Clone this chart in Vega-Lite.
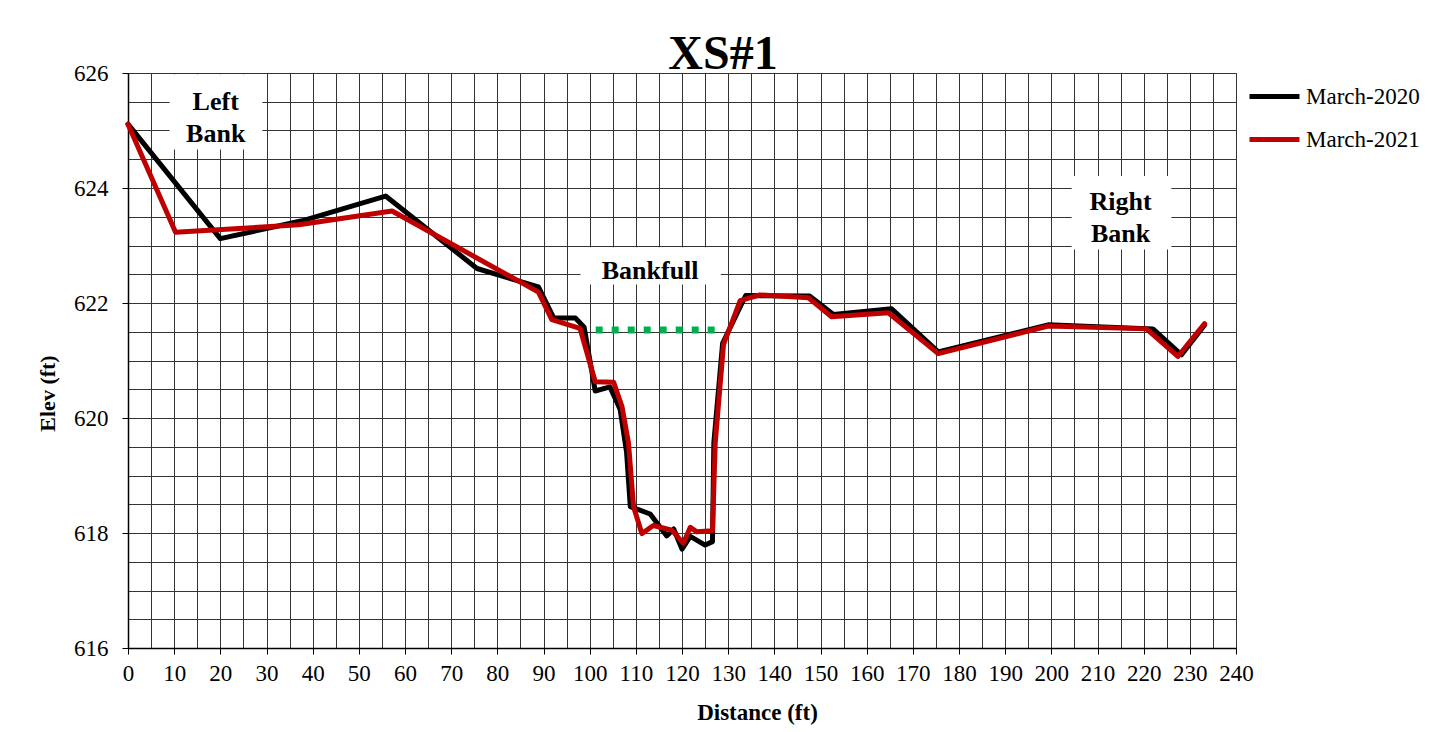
{
  "$schema": "https://vega.github.io/schema/vega-lite/v6.json",
  "width": 1108,
  "height": 575,
  "autosize": {"type": "none"},
  "padding": {"left": 128, "top": 73, "right": 216, "bottom": 84},
  "background": "white",
  "config": {
    "font": "Liberation Serif",
    "view": {"stroke": "#808080", "strokeWidth": 1}
  },
  "title": {
    "text": "XS#1",
    "font": "Liberation Serif",
    "fontSize": 48,
    "fontWeight": "bold",
    "color": "#000",
    "anchor": "middle",
    "dx": 41,
    "dy": 55,
    "baseline": "alphabetic",
    "offset": 0
  },
  "datasets": {
    "survey": [
      {"dist": 0, "elev": 625.11, "series": "March-2020"},
      {"dist": 20.0, "elev": 623.12, "series": "March-2020"},
      {"dist": 37.7, "elev": 623.43, "series": "March-2020"},
      {"dist": 55.8, "elev": 623.86, "series": "March-2020"},
      {"dist": 75.6, "elev": 622.60, "series": "March-2020"},
      {"dist": 88.9, "elev": 622.28, "series": "March-2020"},
      {"dist": 92.2, "elev": 621.74, "series": "March-2020"},
      {"dist": 96.9, "elev": 621.74, "series": "March-2020"},
      {"dist": 98.8, "elev": 621.58, "series": "March-2020"},
      {"dist": 101.2, "elev": 620.47, "series": "March-2020"},
      {"dist": 104.4, "elev": 620.54, "series": "March-2020"},
      {"dist": 106.6, "elev": 620.15, "series": "March-2020"},
      {"dist": 108.0, "elev": 619.40, "series": "March-2020"},
      {"dist": 108.8, "elev": 618.46, "series": "March-2020"},
      {"dist": 113.1, "elev": 618.33, "series": "March-2020"},
      {"dist": 116.7, "elev": 617.95, "series": "March-2020"},
      {"dist": 118.2, "elev": 618.07, "series": "March-2020"},
      {"dist": 120.0, "elev": 617.72, "series": "March-2020"},
      {"dist": 121.8, "elev": 617.94, "series": "March-2020"},
      {"dist": 125.0, "elev": 617.79, "series": "March-2020"},
      {"dist": 126.6, "elev": 617.85, "series": "March-2020"},
      {"dist": 126.9, "elev": 619.57, "series": "March-2020"},
      {"dist": 128.8, "elev": 621.30, "series": "March-2020"},
      {"dist": 133.8, "elev": 622.13, "series": "March-2020"},
      {"dist": 147.7, "elev": 622.12, "series": "March-2020"},
      {"dist": 152.8, "elev": 621.80, "series": "March-2020"},
      {"dist": 165.4, "elev": 621.90, "series": "March-2020"},
      {"dist": 175.5, "elev": 621.15, "series": "March-2020"},
      {"dist": 199.3, "elev": 621.62, "series": "March-2020"},
      {"dist": 222.0, "elev": 621.55, "series": "March-2020"},
      {"dist": 228.2, "elev": 621.10, "series": "March-2020"},
      {"dist": 233.2, "elev": 621.62, "series": "March-2020"},
      {"dist": 0, "elev": 625.11, "series": "March-2021"},
      {"dist": 10.3, "elev": 623.23, "series": "March-2021"},
      {"dist": 37.0, "elev": 623.36, "series": "March-2021"},
      {"dist": 57.2, "elev": 623.60, "series": "March-2021"},
      {"dist": 88.9, "elev": 622.19, "series": "March-2021"},
      {"dist": 91.8, "elev": 621.71, "series": "March-2021"},
      {"dist": 97.9, "elev": 621.56, "series": "March-2021"},
      {"dist": 101.2, "elev": 620.63, "series": "March-2021"},
      {"dist": 105.2, "elev": 620.62, "series": "March-2021"},
      {"dist": 107.0, "elev": 620.20, "series": "March-2021"},
      {"dist": 108.4, "elev": 619.57, "series": "March-2021"},
      {"dist": 109.5, "elev": 618.46, "series": "March-2021"},
      {"dist": 111.3, "elev": 617.99, "series": "March-2021"},
      {"dist": 113.8, "elev": 618.13, "series": "March-2021"},
      {"dist": 117.8, "elev": 618.05, "series": "March-2021"},
      {"dist": 120.3, "elev": 617.82, "series": "March-2021"},
      {"dist": 121.8, "elev": 618.10, "series": "March-2021"},
      {"dist": 123.2, "elev": 618.02, "series": "March-2021"},
      {"dist": 126.6, "elev": 618.04, "series": "March-2021"},
      {"dist": 127.2, "elev": 619.57, "series": "March-2021"},
      {"dist": 129.0, "elev": 621.28, "series": "March-2021"},
      {"dist": 132.6, "elev": 622.04, "series": "March-2021"},
      {"dist": 136.9, "elev": 622.14, "series": "March-2021"},
      {"dist": 147.4, "elev": 622.09, "series": "March-2021"},
      {"dist": 152.4, "elev": 621.76, "series": "March-2021"},
      {"dist": 164.7, "elev": 621.83, "series": "March-2021"},
      {"dist": 175.5, "elev": 621.12, "series": "March-2021"},
      {"dist": 199.3, "elev": 621.60, "series": "March-2021"},
      {"dist": 220.6, "elev": 621.55, "series": "March-2021"},
      {"dist": 227.4, "elev": 621.07, "series": "March-2021"},
      {"dist": 233.2, "elev": 621.64, "series": "March-2021"}
    ],
    "boxes": [
      {"x1": 9.0, "x2": 29.1, "y1": 624.67, "y2": 625.98},
      {"x1": 98.0, "x2": 128.4, "y1": 622.32, "y2": 622.97},
      {"x1": 204.4, "x2": 226.0, "y1": 622.93, "y2": 624.21}
    ],
    "labels": [
      {"dist": 19.0, "elev": 625.49, "text": "Left"},
      {"dist": 19.0, "elev": 624.94, "text": "Bank"},
      {"dist": 113.1, "elev": 622.56, "text": "Bankfull"},
      {"dist": 215.0, "elev": 623.75, "text": "Right"},
      {"dist": 215.0, "elev": 623.20, "text": "Bank"}
    ],
    "bankfull": [
      {"dist": 101.3, "elev": 621.53},
      {"dist": 127.3, "elev": 621.53}
    ]
  },
  "layer": [
    {
      "data": {"name": "boxes"},
      "mark": {"type": "rect", "fill": "white", "stroke": null},
      "encoding": {
        "x": {"field": "x1", "type": "quantitative",
          "scale": {"domain": [0, 240], "nice": false, "zero": false},
          "axis": {
            "values": [0,5,10,15,20,25,30,35,40,45,50,55,60,65,70,75,80,85,90,95,100,105,110,115,120,125,130,135,140,145,150,155,160,165,170,175,180,185,190,195,200,205,210,215,220,225,230,235,240],
            "tickCount": 200,
            "labelExpr": "datum.value % 10 === 0 ? format(datum.value, 'd') : ''",
            "labelFontSize": 23,
            "labelFont": "Liberation Serif",
            "labelColor": "#000",
            "labelPadding": 8,
            "labelOverlap": false,
            "labelFlush": false,
            "tickSize": 6,
            "tickColor": "#000",
            "tickOpacity": {"condition": {"test": "datum.value % 10 === 0", "value": 1}, "value": 0},
            "domainColor": "#000",
            "domainWidth": 1.5,
            "grid": true,
            "gridColor": "#333333",
            "gridWidth": 1,
            "gridOpacity": 1,
            "title": "Distance (ft)",
            "titleFont": "Liberation Serif",
            "titleFontSize": 23,
            "titleFontWeight": "bold",
            "titleColor": "#000",
            "titleX": 629,
            "titleY": 64,
            "titleAlign": "center",
            "titleBaseline": "middle"
          }},
        "x2": {"field": "x2"},
        "y": {"field": "y1", "type": "quantitative",
          "scale": {"domain": [616, 626], "nice": false, "zero": false},
          "axis": {
            "values": [616,616.5,617,617.5,618,618.5,619,619.5,620,620.5,621,621.5,622,622.5,623,623.5,624,624.5,625,625.5,626],
            "tickCount": 200,
            "labelExpr": "datum.value % 2 === 0 ? format(datum.value, 'd') : ''",
            "labelFontSize": 23,
            "labelFont": "Liberation Serif",
            "labelColor": "#000",
            "labelPadding": 14,
            "labelOverlap": false,
            "labelFlush": false,
            "tickSize": 6,
            "tickColor": "#000",
            "tickOpacity": {"condition": {"test": "datum.value % 2 === 0", "value": 1}, "value": 0},
            "domainColor": "#000",
            "domainWidth": 1.5,
            "grid": true,
            "gridColor": "#333333",
            "gridWidth": 1,
            "gridOpacity": 1,
            "title": "Elev (ft)",
            "titleFont": "Liberation Serif",
            "titleFontSize": 22,
            "titleFontWeight": "bold",
            "titleColor": "#000",
            "titleAngle": -90,
            "titleX": -81,
            "titleY": 320,
            "titleAlign": "center",
            "titleBaseline": "middle"
          }},
        "y2": {"field": "y2"}
      }
    },
    {
      "data": {"name": "labels"},
      "mark": {"type": "text", "font": "Liberation Serif", "fontSize": 26, "fontWeight": "bold", "color": "#000", "align": "center", "baseline": "middle"},
      "encoding": {
        "x": {"field": "dist", "type": "quantitative"},
        "y": {"field": "elev", "type": "quantitative"},
        "text": {"field": "text"}
      }
    },
    {
      "data": {"name": "survey"},
      "mark": {"type": "line", "strokeWidth": 5, "strokeJoin": "round", "strokeCap": "round"},
      "encoding": {
        "x": {"field": "dist", "type": "quantitative"},
        "y": {"field": "elev", "type": "quantitative"},
        "color": {"field": "series", "type": "nominal",
          "scale": {"domain": ["March-2020", "March-2021"], "range": ["#000000", "#c00000"]},
          "legend": {
            "title": null,
            "orient": "none",
            "legendX": 1119,
            "legendY": -4,
            "symbolType": "stroke",
            "symbolSize": 2500,
            "symbolStrokeWidth": 5,
            "labelFont": "Liberation Serif",
            "labelFontSize": 23,
            "labelColor": "#000",
            "labelOffset": 4,
            "rowPadding": 3
          }}
      }
    },
    {
      "data": {"name": "bankfull"},
      "mark": {"type": "line", "color": "#00b050", "strokeWidth": 7, "strokeDash": [7, 9], "strokeCap": "butt"},
      "encoding": {
        "x": {"field": "dist", "type": "quantitative"},
        "y": {"field": "elev", "type": "quantitative"}
      }
    }
  ]
}
